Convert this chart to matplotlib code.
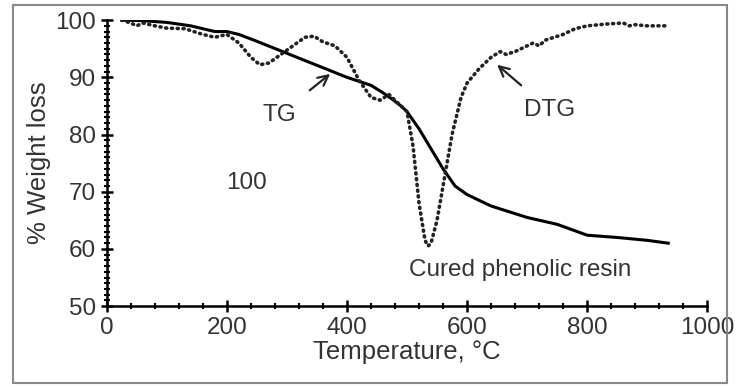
import numpy as np
import matplotlib
matplotlib.use("Agg")
import matplotlib.pyplot as plt
from matplotlib.patches import Rectangle
from matplotlib.ticker import MultipleLocator

plt.rcParams['font.family'] = ['Liberation Sans', 'DejaVu Sans']

# TG curve (solid)
tg_temp = [25, 60, 100, 140, 180, 200, 220, 250, 300, 350, 400, 440, 460, 475, 490, 500,
           520, 540, 560, 580, 600, 640, 700, 750, 800, 850, 900, 935]
tg_wt = [100, 99.9, 99.6, 99, 98, 98, 97.5, 96.3, 94.2, 92.1, 90, 88.6, 87.3, 86.2, 85, 84,
         81, 77.5, 74, 71, 69.5, 67.5, 65.5, 64.3, 62.4, 62, 61.5, 61]

# DTG curve (dotted)
dtg_temp = [25, 40, 50, 60, 80, 100, 130, 160, 180, 200, 220, 240, 255, 270, 290, 310,
            330, 345, 360, 380, 400, 420, 440, 455, 470, 485, 500, 510, 520, 530, 535,
            540, 550, 560, 575, 590, 600, 620, 640, 655, 665, 680, 700, 710, 720, 730,
            745, 760, 780, 800, 830, 860, 870, 880, 900, 935]
dtg_wt = [100, 99.5, 99, 99.5, 99, 98.6, 98.5, 97.5, 97, 97.5, 96, 93.5, 92.2, 92.5, 94,
          95.5, 97, 97.2, 96.2, 95.5, 93.5, 89.5, 86.5, 86, 87, 85.5, 84, 78, 68, 61.5,
          60.5, 61, 65, 71, 80, 86.5, 89, 91.5, 93.5, 94.5, 94, 94.5, 95.5, 96, 95.5,
          96.5, 97, 97.5, 98.5, 99, 99.3, 99.5, 99, 99.2, 99, 99]

txt = '#333333'

fig = plt.figure(figsize=(7.36, 3.87), dpi=100)
fig.patches.append(Rectangle((13 / 736, 4 / 387), 714 / 736, 378 / 387,
                             transform=fig.transFigure, fill=False,
                             edgecolor='#888888', lw=1.5))
ax = fig.add_axes([0.145, 0.209, 0.816, 0.739])

ax.plot(tg_temp, tg_wt, color='black', lw=2.2)
ax.plot(dtg_temp, dtg_wt, color='#222222', lw=2.6, linestyle=(0, (0.3, 1.3)),
        dash_capstyle='round')

ax.set_xlim(0, 1000)
ax.set_ylim(50, 100)
ax.xaxis.set_major_locator(MultipleLocator(200))
ax.xaxis.set_minor_locator(MultipleLocator(40))
ax.yaxis.set_major_locator(MultipleLocator(10))
ax.yaxis.set_minor_locator(MultipleLocator(1))
ax.spines['top'].set_visible(False)
ax.spines['right'].set_visible(False)
for s in ('left', 'bottom'):
    ax.spines[s].set_linewidth(1.8)
ax.tick_params(which='major', direction='inout', length=9, width=1.8,
               labelsize=17.5, labelcolor=txt, pad=3)
ax.tick_params(which='minor', direction='inout', length=5, width=1.5)

ax.set_xlabel('Temperature, °C', fontsize=18.5, color=txt, labelpad=1)
ax.set_ylabel('% Weight loss', fontsize=18.5, color=txt, labelpad=3)

ax.annotate('TG', xy=(372, 90.6), xytext=(288, 83.5), fontsize=17.5, color=txt,
            ha='center', va='center',
            arrowprops=dict(arrowstyle='->', color='#222222', lw=1.6,
                            shrinkA=12, shrinkB=0, mutation_scale=18))
ax.annotate('DTG', xy=(650, 92.2), xytext=(738, 84.3), fontsize=17.5, color=txt,
            ha='center', va='center',
            arrowprops=dict(arrowstyle='->', color='#222222', lw=1.6,
                            shrinkA=12, shrinkB=0, mutation_scale=18))
ax.text(233, 71.5, '100', fontsize=17.5, color=txt, ha='center', va='center')
ax.text(688, 56.3, 'Cured phenolic resin', fontsize=17.5, color=txt,
        ha='center', va='center')

fig.savefig('out.png', dpi=100)
